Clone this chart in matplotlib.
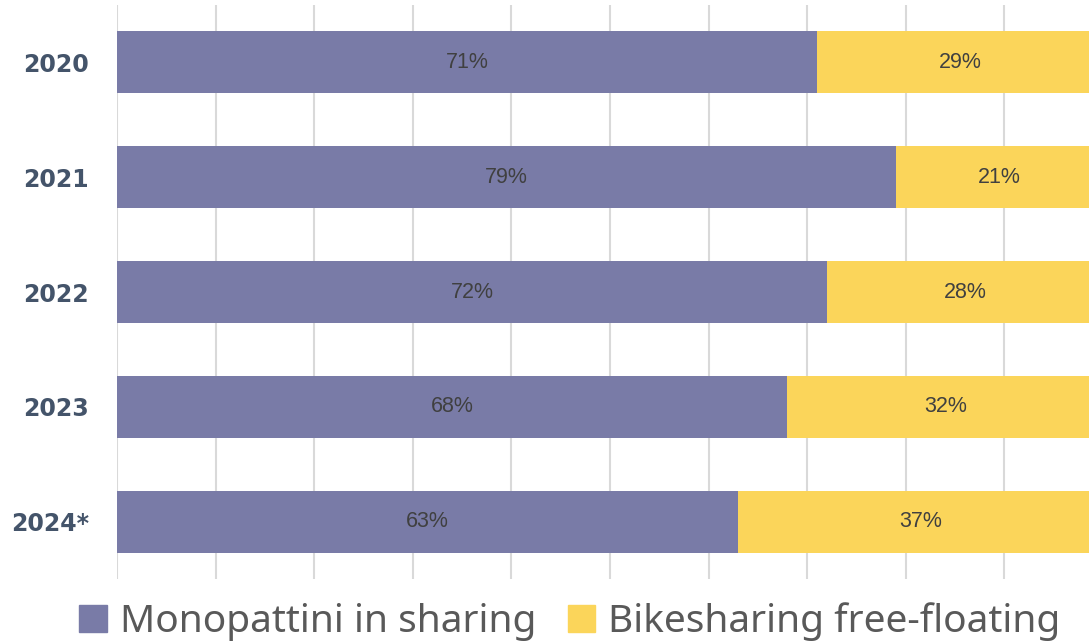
import matplotlib.pyplot as plt
from matplotlib.patches import Patch

# data
years = ['2020', '2021', '2022', '2023', '2024*']
monopattini = [71, 79, 72, 68, 63]
bikesharing = [29, 21, 28, 32, 37]
series_names = ['Monopattini in sharing', 'Bikesharing free-floating']

purple = '#797BA7'
yellow = '#FBD55A'

fig = plt.figure(figsize=(10.89, 6.44), dpi=100)
# axes runs past the right edge: the original picture is cropped at ~99%
ax = fig.add_axes([117 / 1089, 65 / 644, 986 / 1089, 574 / 644])

ypos = list(range(len(years)))
ax.barh(ypos, monopattini, height=0.54, color=purple, zorder=3)
ax.barh(ypos, bikesharing, left=monopattini, height=0.54, color=yellow, zorder=3)

for y, m, b in zip(ypos, monopattini, bikesharing):
    ax.text(m / 2, y, f'{m}%', ha='center', va='center', fontsize=15.5,
            color='#404040', family='Liberation Sans', zorder=4)
    ax.text(m + b / 2, y, f'{b}%', ha='center', va='center', fontsize=15.5,
            color='#404040', family='Liberation Sans', zorder=4)

ax.set_xlim(0, 100)
ax.set_ylim(len(years) - 0.5, -0.5)
ax.set_xticks(range(0, 101, 10))
ax.set_xticklabels([])
ax.tick_params(axis='x', length=0)
ax.set_yticks(ypos)
ax.set_yticklabels(years, fontsize=17, fontweight='bold', color='#44546A')
ax.tick_params(axis='y', length=0, pad=20)
ax.grid(axis='x', color='#D9D9D9', linewidth=1.5, zorder=0)
for s in ax.spines.values():
    s.set_visible(False)

handles = [Patch(color=purple), Patch(color=yellow)]
fig.legend(handles, series_names, loc='lower center', ncol=2,
           bbox_to_anchor=(570 / 1089, -0.05), frameon=False,
           prop={'family': 'Noto Sans', 'size': 28},
           handlelength=0.7, handleheight=0.7, handletextpad=0.35,
           columnspacing=0.8, labelcolor='#595959')

fig.savefig('out.png', dpi=100)
